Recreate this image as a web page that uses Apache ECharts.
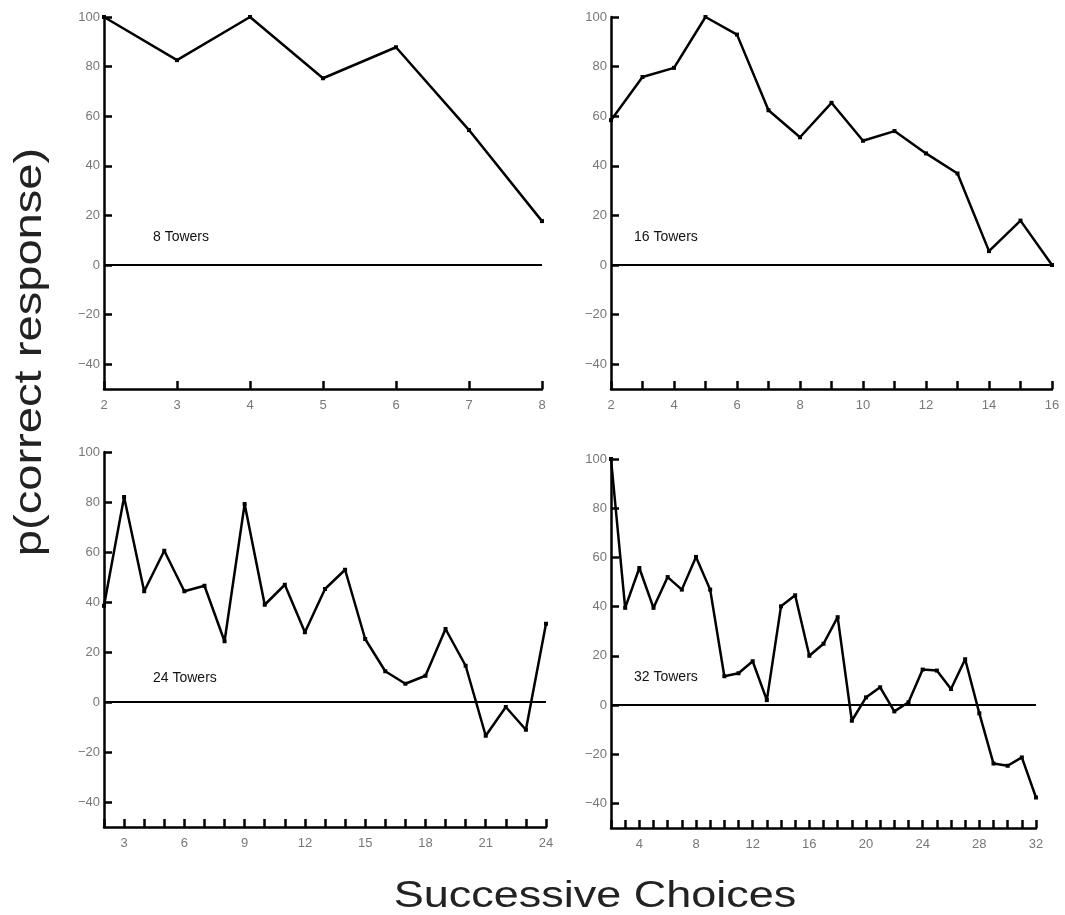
<!DOCTYPE html>
<html>
<head>
<meta charset="utf-8">
<script src="https://cdn.jsdelivr.net/npm/echarts@6/dist/echarts.min.js"></script>
<style>html,body{margin:0;padding:0;background:#fff}#c{width:1065px;height:915px}</style>
</head>
<body>
<div id="c"></div>
<script>
// ---- data ----
const panelNames = ['8 Towers', '16 Towers', '24 Towers', '32 Towers'];
const towers8 = [100, 82.6, 100, 75.3, 87.8, 54.4, 17.7];
const towers16 = [58.4, 75.8, 79.5, 100, 92.9, 62.4, 51.5, 65.4, 50.1, 54.0, 45.0, 36.9, 5.6, 17.9, 0];
const towers24 = [38.5, 82, 44.3, 60.5, 44.3, 46.5, 24.3, 79.2, 38.9, 46.9, 27.9, 45.2, 52.9, 25.2, 12.3, 7.3, 10.5, 29.2, 14.5, -13.5, -2, -11.1, 31.3];
const towers32 = [100, 39.5, 55.7, 39.5, 52.0, 46.9, 60.2, 46.9, 11.7, 12.9, 17.8, 2.0, 40.1, 44.6, 20.0, 24.9, 35.7, -6.4, 3.1, 7.2, -2.6, 1.1, 14.4, 14.0, 6.5, 18.6, -3.4, -23.8, -24.7, -21.3, -37.6];
const yTickLabels = [-40, -20, 0, 20, 40, 60, 80, 100];
const xLabels8 = [2, 3, 4, 5, 6, 7, 8];
const xLabels16 = [2, 4, 6, 8, 10, 12, 14, 16];
const xLabels24 = [3, 6, 9, 12, 15, 18, 21, 24];
const xLabels32 = [4, 8, 12, 16, 20, 24, 28, 32];
const yTitle = 'p(correct response)';
const xTitle = 'Successive Choices';

const seriesValues = [towers8, towers16, towers24, towers32];
const xLabelSets = [xLabels8, xLabels16, xLabels24, xLabels32];

// ---- layout ----
const grids = [
  {left: 104, top: 17, width: 438, height: 372},
  {left: 611, top: 17, width: 441, height: 372},
  {left: 104, top: 452, width: 442, height: 375},
  {left: 611, top: 459, width: 425, height: 369}
];
const titlePos = [
  {left: 153, top: 230},
  {left: 634, top: 230},
  {left: 153, top: 671},
  {left: 634, top: 670}
];

const FONT = 'Liberation Sans';
const minusFmt = v => String(v).replace('-', '\u2212');
const opt = {
  animation: false,
  backgroundColor: '#fff',
  grid: grids.map(g => Object.assign({containLabel: false}, g)),
  title: panelNames.map((n, i) => ({
    text: n, left: titlePos[i].left, top: titlePos[i].top, padding: 0,
    textStyle: {fontFamily: FONT, fontSize: 14, fontWeight: 'normal', color: '#111'}
  })),
  xAxis: [], yAxis: [], series: [],
  graphic: [
    {type: 'text', rotation: Math.PI / 2, x: 31, y: 352, scaleX: 1.24,
     style: {text: yTitle, font: '38px "' + FONT + '"', fill: '#222', align: 'center', verticalAlign: 'middle'}},
    {type: 'text', x: 595, y: 897, scaleX: 1.25,
     style: {text: xTitle, font: '36px "' + FONT + '"', fill: '#222', align: 'center', verticalAlign: 'middle'}}
  ]
};

seriesValues.forEach((vals, i) => {
  const n = vals.length;
  const xmax = n + 1;
  const ticks = [];
  for (let k = 2; k <= xmax; k++) ticks.push(k);
  opt.xAxis.push({
    type: 'value', gridIndex: i, min: 2, max: xmax,
    splitLine: {show: false},
    axisLine: {show: true, onZero: false, lineStyle: {color: '#000', width: 2.5}},
    axisTick: {show: true, inside: true, length: 8, lineStyle: {color: '#000', width: 2.5}, customValues: ticks},
    axisLabel: {show: true, color: '#777', fontFamily: FONT, fontSize: 13, margin: 10, customValues: xLabelSets[i]}
  });
  opt.yAxis.push({
    type: 'value', gridIndex: i, min: -50, max: 100,
    splitLine: {show: false},
    axisLine: {show: true, onZero: false, lineStyle: {color: '#000', width: 2.5}},
    axisTick: {show: true, inside: true, length: 8, lineStyle: {color: '#000', width: 2.5}, customValues: yTickLabels},
    axisLabel: {show: true, color: '#777', fontFamily: FONT, fontSize: 13, margin: 4, customValues: yTickLabels, formatter: minusFmt}
  });
  opt.series.push({
    type: 'line', xAxisIndex: i, yAxisIndex: i,
    data: vals.map((v, k) => [k + 2, v]),
    symbol: 'rect', symbolSize: 4, showSymbol: true,
    itemStyle: {color: '#000'},
    lineStyle: {color: '#000', width: 2.5},
    clip: false,
    markLine: {
      silent: true, symbol: 'none', label: {show: false},
      lineStyle: {color: '#000', width: 2, type: 'solid'},
      data: [{yAxis: 0}]
    }
  });
});

const chart = echarts.init(document.getElementById('c'), null, {renderer: 'canvas'});
chart.setOption(opt);
</script>
</body>
</html>
